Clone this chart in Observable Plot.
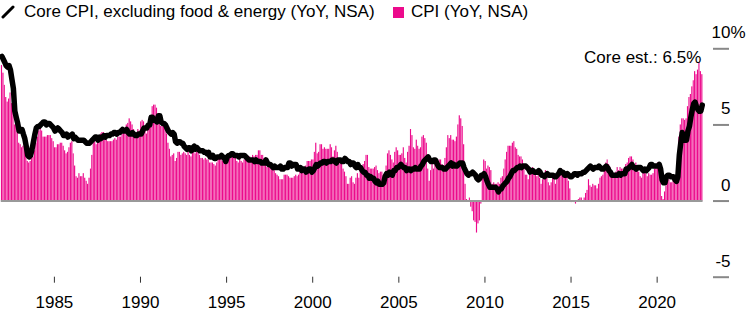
<!DOCTYPE html>
<html>
<head>
<meta charset="utf-8">
<script src="https://cdn.jsdelivr.net/npm/d3@7"></script>
<script src="https://cdn.jsdelivr.net/npm/@observablehq/plot@0.6"></script>
<style>
  body { margin: 0; background: #fff; }
  #legend { position: relative; width: 754px; height: 24px; font: 17px "Liberation Sans", Arial, sans-serif; color: #000; }
  #legend span { position: absolute; white-space: nowrap; }
</style>
</head>
<body>
<div id="legend">
  <svg style="position:absolute;left:1px;top:5px" width="14" height="14"><line x1="2" y1="12" x2="12" y2="2" stroke="#000" stroke-width="3" stroke-linecap="round"/></svg>
  <span style="left:24px;top:2px">Core CPI, excluding food &amp; energy (YoY, NSA)</span>
  <span style="left:393px;top:7px;width:11px;height:11px;background:#ec0a8c"></span>
  <span style="left:411px;top:2px">CPI (YoY, NSA)</span>
</div>
<div id="chart"></div>
<script>
// Monthly series, starting December 1981 (YoY %, NSA)
const startYear = 1981, startMonth = 11; // December 1981 (0-based month)

const cpi = [
  8.9,
  8.4, 7.6, 6.8, 6.5, 6.7, 7.1, 6.4, 5.9, 5.0, 5.1, 4.6, 3.8,
  3.7, 3.5, 3.6, 3.9, 3.5, 2.6, 2.5, 2.6, 2.9, 2.9, 3.3, 3.8,
  4.2, 4.6, 4.8, 4.6, 4.2, 4.2, 4.2, 4.3, 4.3, 4.3, 4.1, 3.9,
  3.5, 3.5, 3.7, 3.7, 3.8, 3.8, 3.6, 3.3, 3.1, 3.2, 3.5, 3.8,
  3.9, 3.1, 2.3, 1.6, 1.5, 1.8, 1.6, 1.6, 1.8, 1.5, 1.3, 1.1,
  1.5, 2.1, 3.0, 3.8, 3.9, 3.7, 3.9, 4.3, 4.4, 4.5, 4.5, 4.4,
  4.0, 3.9, 3.9, 3.9, 3.9, 4.0, 4.1, 4.0, 4.2, 4.2, 4.2, 4.4,
  4.7, 4.8, 5.0, 5.1, 5.4, 5.2, 5.0, 4.7, 4.3, 4.5, 4.7, 4.6,
  5.2, 5.3, 5.2, 4.7, 4.4, 4.7, 4.8, 5.6, 6.2, 6.3, 6.3, 6.1,
  5.7, 5.3, 4.9, 4.9, 5.0, 4.7, 4.4, 3.8, 3.4, 2.9, 3.0, 3.1,
  2.6, 2.8, 3.2, 3.2, 3.0, 3.1, 3.2, 3.1, 3.0, 3.2, 3.0, 2.9,
  3.3, 3.2, 3.1, 3.2, 3.2, 3.0, 2.8, 2.8, 2.7, 2.8, 2.7, 2.7,
  2.5, 2.5, 2.5, 2.4, 2.3, 2.5, 2.8, 2.9, 3.0, 2.6, 2.7, 2.7,
  2.8, 2.9, 2.9, 3.1, 3.2, 3.0, 2.8, 2.6, 2.5, 2.8, 2.6, 2.5,
  2.7, 2.7, 2.8, 2.9, 2.9, 2.8, 3.0, 2.9, 3.0, 3.0, 3.3, 3.3,
  3.0, 3.0, 2.8, 2.5, 2.2, 2.3, 2.2, 2.2, 2.2, 2.1, 1.8, 1.7,
  1.6, 1.4, 1.4, 1.4, 1.7, 1.7, 1.7, 1.6, 1.5, 1.5, 1.5, 1.6,
  1.7, 1.6, 1.7, 2.3, 2.1, 2.0, 2.1, 2.3, 2.6, 2.6, 2.6, 2.7,
  2.7, 3.2, 3.8, 3.1, 3.2, 3.7, 3.7, 3.4, 3.5, 3.4, 3.4, 3.4,
  3.7, 3.5, 2.9, 3.3, 3.6, 3.2, 2.7, 2.7, 2.6, 2.1, 1.9, 1.6,
  1.1, 1.1, 1.5, 1.6, 1.2, 1.1, 1.5, 1.8, 1.5, 2.0, 2.2, 2.4,
  2.6, 3.0, 3.0, 2.2, 2.1, 2.1, 2.1, 2.2, 2.3, 2.0, 1.8, 1.9,
  1.9, 1.7, 1.7, 2.3, 3.1, 3.3, 3.0, 2.7, 2.5, 3.2, 3.5, 3.3,
  3.0, 3.0, 3.1, 3.5, 2.8, 2.5, 3.2, 3.6, 4.7, 4.3, 3.5, 3.4,
  4.0, 3.6, 3.4, 3.5, 4.2, 4.3, 4.1, 3.8, 2.1, 1.3, 2.0, 2.5,
  2.1, 2.4, 2.8, 2.6, 2.7, 2.7, 2.4, 2.0, 2.8, 3.5, 4.3, 4.1,
  4.3, 4.0, 4.0, 3.9, 4.2, 5.0, 5.6, 5.4, 4.9, 3.7, 1.1, 0.1,
  0.0, 0.2, -0.4, -0.7, -1.3, -1.4, -2.1, -1.5, -1.3, -0.2, 1.8, 2.7,
  2.6, 2.1, 2.3, 2.2, 2.0, 1.1, 1.2, 1.1, 1.1, 1.2, 1.1, 1.5,
  1.6, 2.1, 2.7, 3.2, 3.6, 3.6, 3.6, 3.8, 3.9, 3.5, 3.4, 3.0,
  2.9, 2.9, 2.7, 2.3, 1.7, 1.7, 1.4, 1.7, 2.0, 2.2, 1.8, 1.7,
  1.6, 2.0, 1.5, 1.1, 1.4, 1.8, 2.0, 1.5, 1.2, 1.0, 1.2, 1.5,
  1.6, 1.1, 1.5, 2.0, 2.1, 2.1, 2.0, 1.7, 1.7, 1.7, 1.3, 0.8,
  -0.1, 0.0, -0.1, -0.2, 0.0, 0.1, 0.2, 0.2, 0.0, 0.2, 0.5, 0.7,
  1.4, 1.0, 0.9, 1.1, 1.0, 1.0, 0.8, 1.1, 1.5, 1.6, 1.7, 2.1,
  2.5, 2.7, 2.4, 2.2, 1.9, 1.6, 1.7, 1.9, 2.2, 2.0, 2.2, 2.1,
  2.1, 2.2, 2.4, 2.5, 2.8, 2.9, 2.9, 2.7, 2.3, 2.5, 2.2, 1.9,
  1.6, 1.5, 1.9, 2.0, 1.8, 1.6, 1.8, 1.7, 1.7, 1.8, 2.1, 2.3,
  2.5, 2.3, 1.5, 0.3, 0.1, 0.6, 1.0, 1.3, 1.4, 1.2, 1.2, 1.4,
  1.4, 1.7, 2.6, 4.2, 5.0, 5.4, 5.4, 5.3, 5.4, 6.2, 6.8, 7.0,
  7.5, 7.9, 8.5, 8.3, 8.6, 9.1, 8.5, 8.3
];

const core = [
  9.5,
  9.3, 9.1, 8.9, 8.8, 8.9, 8.6, 8.0, 7.4, 5.9, 5.5, 5.1, 4.6,
  4.7, 4.7, 4.4, 4.1, 3.6, 3.0, 2.9, 3.0, 3.4, 3.9, 4.4, 4.8,
  4.9, 4.9, 5.0, 5.1, 5.2, 5.2, 5.0, 5.1, 5.1, 5.0, 4.9, 4.8,
  4.6, 4.7, 4.8, 4.7, 4.6, 4.5, 4.3, 4.3, 4.4, 4.2, 4.3, 4.3,
  4.4, 4.1, 4.2, 4.1, 4.0, 4.0, 4.0, 4.0, 4.0, 3.9, 3.8, 3.8,
  3.8, 3.9, 4.0, 4.1, 4.2, 4.2, 4.0, 4.2, 4.1, 4.2, 4.3, 4.2,
  4.3, 4.3, 4.3, 4.4, 4.4, 4.5, 4.5, 4.4, 4.5, 4.5, 4.6, 4.7,
  4.6, 4.6, 4.7, 4.5, 4.4, 4.4, 4.5, 4.4, 4.3, 4.3, 4.4, 4.4,
  4.4, 4.6, 4.8, 4.8, 4.8, 5.0, 5.0, 5.5, 5.5, 5.3, 5.3, 5.2,
  5.6, 5.6, 5.2, 5.1, 5.1, 5.0, 4.8, 4.6, 4.5, 4.4, 4.5, 4.4,
  3.9, 3.8, 3.9, 3.9, 3.8, 3.8, 3.6, 3.5, 3.4, 3.5, 3.5, 3.3,
  3.5, 3.6, 3.4, 3.5, 3.4, 3.3, 3.3, 3.3, 3.2, 3.2, 3.1, 3.2,
  2.9, 2.9, 3.0, 2.8, 2.8, 2.9, 2.9, 2.9, 3.0, 2.9, 2.8, 2.6,
  2.9, 3.0, 3.0, 3.1, 3.1, 3.0, 3.0, 3.0, 2.9, 3.0, 3.0, 3.0,
  3.0, 2.9, 2.8, 2.7, 2.7, 2.7, 2.7, 2.6, 2.7, 2.6, 2.6, 2.6,
  2.5, 2.5, 2.5, 2.7, 2.5, 2.4, 2.4, 2.3, 2.2, 2.3, 2.2, 2.2,
  2.2, 2.3, 2.1, 2.1, 2.2, 2.2, 2.2, 2.5, 2.5, 2.3, 2.4, 2.4,
  2.4, 2.1, 2.1, 2.2, 2.0, 2.1, 2.1, 1.9, 2.0, 2.1, 2.1, 1.9,
  2.0, 2.2, 2.4, 2.3, 2.4, 2.5, 2.5, 2.6, 2.6, 2.5, 2.6, 2.6,
  2.6, 2.7, 2.7, 2.6, 2.5, 2.7, 2.7, 2.7, 2.6, 2.6, 2.8, 2.7,
  2.6, 2.6, 2.4, 2.5, 2.5, 2.3, 2.2, 2.4, 2.2, 2.2, 2.0, 1.9,
  1.9, 1.7, 1.7, 1.5, 1.6, 1.5, 1.5, 1.3, 1.2, 1.3, 1.1, 1.1,
  1.1, 1.2, 1.6, 1.8, 1.7, 1.9, 1.8, 1.7, 2.0, 2.0, 2.2, 2.2,
  2.3, 2.4, 2.3, 2.2, 2.2, 2.0, 2.1, 2.1, 2.0, 2.1, 2.1, 2.2,
  2.1, 2.1, 2.1, 2.3, 2.4, 2.6, 2.7, 2.8, 2.9, 2.7, 2.6, 2.6,
  2.7, 2.7, 2.5, 2.3, 2.2, 2.2, 2.2, 2.1, 2.1, 2.2, 2.3, 2.4,
  2.5, 2.3, 2.4, 2.3, 2.3, 2.4, 2.5, 2.5, 2.5, 2.2, 2.0, 1.8,
  1.7, 1.8, 1.8, 1.9, 1.8, 1.7, 1.5, 1.4, 1.5, 1.7, 1.7, 1.8,
  1.6, 1.3, 1.1, 0.9, 0.9, 0.9, 0.9, 0.9, 0.8, 0.6, 0.8, 0.8,
  1.0, 1.1, 1.2, 1.3, 1.5, 1.6, 1.8, 2.0, 2.0, 2.1, 2.2, 2.2,
  2.3, 2.2, 2.3, 2.3, 2.3, 2.2, 2.1, 1.9, 2.0, 2.0, 1.9, 1.9,
  1.9, 2.0, 1.9, 1.7, 1.7, 1.6, 1.7, 1.8, 1.7, 1.7, 1.7, 1.7,
  1.6, 1.6, 1.7, 1.8, 2.0, 1.9, 1.9, 1.7, 1.7, 1.8, 1.7, 1.6,
  1.6, 1.7, 1.8, 1.8, 1.7, 1.8, 1.8, 1.8, 1.9, 1.9, 2.0, 2.1,
  2.2, 2.3, 2.2, 2.1, 2.2, 2.2, 2.2, 2.3, 2.2, 2.1, 2.1, 2.2,
  2.3, 2.2, 2.0, 1.9, 1.7, 1.7, 1.7, 1.7, 1.7, 1.8, 1.7, 1.8,
  1.8, 1.8, 2.1, 2.1, 2.2, 2.3, 2.4, 2.2, 2.2, 2.1, 2.2, 2.2,
  2.2, 2.1, 2.0, 2.1, 2.0, 2.1, 2.2, 2.4, 2.4, 2.3, 2.3, 2.3,
  2.3, 2.4, 2.1, 1.4, 1.2, 1.2, 1.6, 1.7, 1.7, 1.6, 1.6, 1.6,
  1.4, 1.3, 1.6, 3.0, 3.8, 4.5, 4.3, 4.0, 4.0, 4.6, 4.9, 5.5,
  6.0, 6.4, 6.5, 6.2, 6.0, 5.9, 5.9, 6.3
];

const xTickYears = [1985, 1990, 1995, 2000, 2005, 2010, 2015, 2020];
const yTicks = [-5, 0, 5, 10];
const annotation = "Core est.: 6.5%";
const annotationValue = 9.45;

const pink = "#ec0a8c";
const start = new Date(Date.UTC(startYear, startMonth, 1));
const rows = cpi.map((v, i) => {
  const date = d3.utcMonth.offset(start, i);
  return {
    date,
    next: d3.utcMonth.offset(start, i + 1),
    mid: d3.utcDay.offset(date, 14),
    cpi: v,
    core: core[i]
  };
});
const last = rows[rows.length - 1];

const chart = Plot.plot({
  width: 754,
  height: 309,
  marginLeft: 0,
  marginRight: 42,
  marginTop: 24.3,
  marginBottom: 56.3,
  style: {
    fontFamily: "'Liberation Sans', Arial, sans-serif",
    fontSize: "17px",
    color: "#000",
    background: "#fff",
    overflow: "visible"
  },
  x: { type: "utc", domain: [new Date(Date.UTC(1981, 10, 15)), new Date(Date.UTC(2023, 2, 20))], label: null },
  y: { domain: [-5, 10], label: null },
  marks: [
    Plot.rectY(rows, { x1: "date", x2: "next", y1: 0, y2: "cpi", fill: pink, insetLeft: 0.15, insetRight: 0.15 }),
    Plot.ruleY([0], { x1: rows[0].date, x2: last.next, stroke: "#999", strokeWidth: 2 }),
    Plot.line(rows, { x: "mid", y: "core", stroke: "#000", strokeWidth: 5.5, strokeLinejoin: "round", strokeLinecap: "round" }),
    Plot.text([annotation], { x: last.mid, y: annotationValue, text: d => d, textAnchor: "end", dx: -1, fontSize: 17, fill: "#000" }),
    Plot.axisX({
      ticks: xTickYears.map(y => new Date(Date.UTC(y, 0, 1))),
      tickFormat: d3.utcFormat("%Y"),
      tickSize: 6, tickPadding: 13,
      stroke: "#333", fill: "#000", label: null, fontSize: 17
    }),
    Plot.axisY({ anchor: "right", ticks: yTicks, tickSize: 16, stroke: "#888", strokeWidth: 2, fill: "none", label: null }),
    Plot.axisY({ anchor: "right", ticks: yTicks, tickSize: 0, tickPadding: 18, textAnchor: "end", dy: -16, fill: "#000", tickFormat: d => String(d), label: null, fontSize: 17 }),
    Plot.axisY({ anchor: "right", ticks: [yTicks[yTicks.length - 1]], tickSize: 0, tickPadding: 18, textAnchor: "start", dy: -16, fill: "#000", tickFormat: () => "%", label: null, fontSize: 17 })
  ]
});
document.getElementById("chart").appendChild(chart);
</script>
</body>
</html>
